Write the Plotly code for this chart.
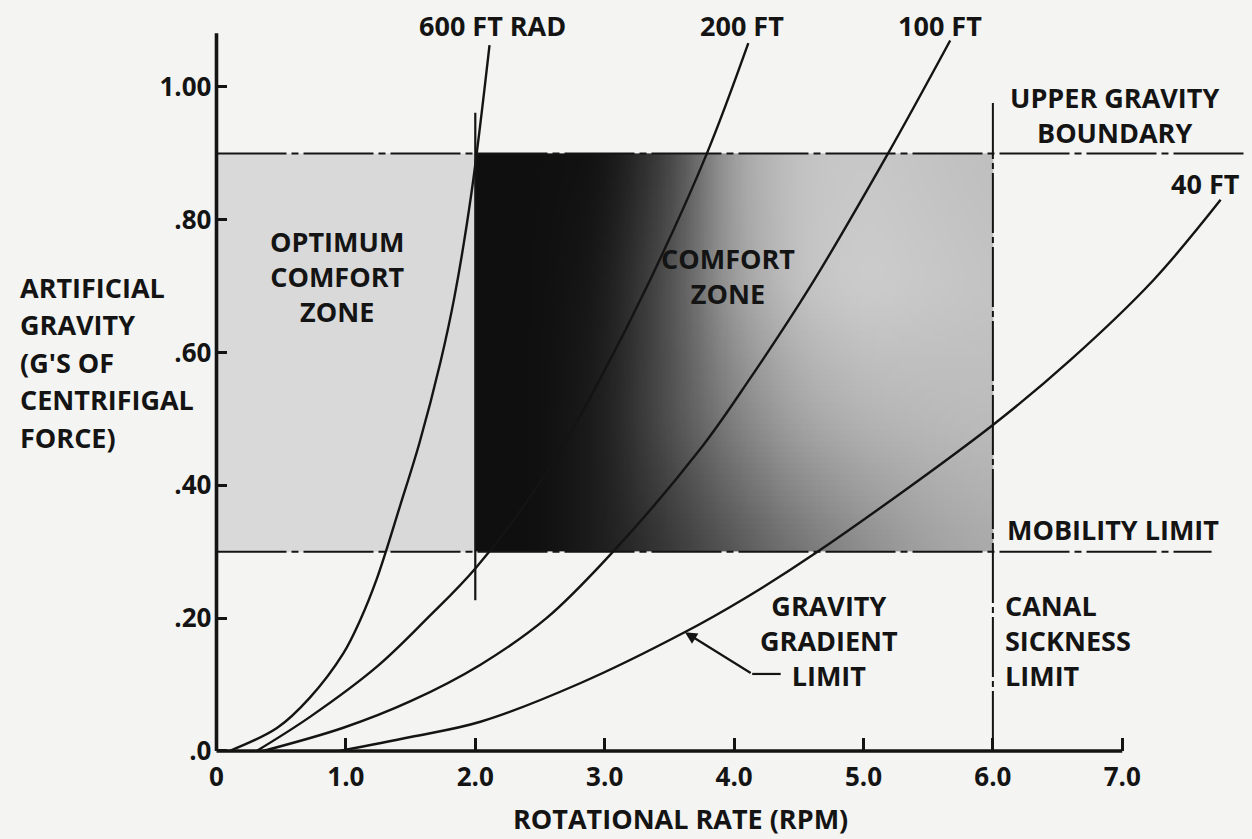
import numpy as np
import plotly.graph_objects as go

# ---------------- data ----------------
# curves of constant radius: rotational rate (RPM) vs artificial gravity (g)
rpm_600 = [0.10, 0.47, 0.72, 0.98, 1.11, 1.24, 1.42, 1.57, 1.73, 1.84, 1.97, 2.11]
g_600 = [0.0, 0.035, 0.08, 0.147, 0.197, 0.26, 0.37, 0.465, 0.585, 0.685, 0.84, 1.063]

rpm_200 = [0.31, 0.72, 1.24, 1.63, 2.01, 2.58, 2.96, 3.35, 3.79, 4.11]
g_200 = [0.0, 0.051, 0.127, 0.200, 0.277, 0.428, 0.559, 0.709, 0.90, 1.066]

rpm_100 = [0.36, 0.98, 1.50, 2.04, 2.55, 3.04, 3.74, 4.12, 4.59, 5.19, 5.67]
g_100 = [0.0, 0.035, 0.075, 0.13, 0.20, 0.295, 0.455, 0.56, 0.70, 0.90, 1.07]

rpm_40 = [0.95, 1.50, 2.04, 2.81, 3.61, 4.10, 4.63, 6.00, 6.60, 7.24, 7.76]
g_40 = [0.0, 0.021, 0.044, 0.102, 0.178, 0.232, 0.298, 0.491, 0.589, 0.709, 0.83]

# limits
UPPER_G = 0.90          # upper gravity boundary
MOBILITY_G = 0.30       # mobility limit
CANAL_RPM = 6.0         # canal sickness limit
OPT_RPM = 2.0           # optimum comfort zone edge

# axis ticks
x_ticks = [0, 1, 2, 3, 4, 5, 6, 7]
x_ticktext = ["0", "1.0", "2.0", "3.0", "4.0", "5.0", "6.0", "7.0"]
y_ticks = [0, 0.2, 0.4, 0.6, 0.8, 1.0]
y_ticktext = [".0", ".20", ".40", ".60", ".80", "1.00"]

# gray level of the comfort-zone shading
shade_rpm = [2.0, 2.5, 3.0, 3.5, 4.0, 4.5, 5.0, 5.5, 6.0]
shade_g = [0.3, 0.5, 0.7, 0.9]
shade_gray = [
    [15, 15, 30, 55, 85, 115, 140, 160, 170],
    [15, 15, 30, 80, 130, 165, 180, 185, 188],
    [15, 15, 25, 80, 160, 195, 205, 200, 195],
    [15, 15, 18, 65, 165, 195, 200, 195, 190],
]

# ---------------- layout geometry ----------------
W, H = 1252, 839
ML, MR, MT, MB = 200, 0, 15, 75
X_MIN, X_MAX = -0.1275, 8.0025
Y_MIN, Y_MAX = -0.0196, 1.1084
PLOT_W = W - ML - MR
PLOT_H = H - MT - MB

FONT = "Open Sans"
INK = "#141414"
BG = "#f4f4f2"
LABEL_SIZE = 27
TICK_SIZE = 26

fig = go.Figure()

# optimum comfort zone (light gray)
fig.add_shape(type="rect", x0=0, x1=OPT_RPM, y0=MOBILITY_G, y1=UPPER_G,
              fillcolor="#d9d9d9", line=dict(width=0), layer="below")

# comfort zone shading (gray levels interpolated, then softened)
xe = np.linspace(OPT_RPM, CANAL_RPM, 241)
ye = np.linspace(MOBILITY_G, UPPER_G, 73)
xc = (xe[:-1] + xe[1:]) / 2
yc = (ye[:-1] + ye[1:]) / 2
rows = np.array([np.interp(xc, shade_rpm, r) for r in shade_gray])
z = np.array([np.interp(yc, shade_g, rows[:, j]) for j in range(len(xc))]).T


def soften(a, k, axis):
    pad = [(0, 0), (0, 0)]
    pad[axis] = (k, k)
    p = np.pad(a, pad, mode="edge")
    ker = np.ones(2 * k + 1) / (2 * k + 1)
    return np.apply_along_axis(lambda v: np.convolve(v, ker, mode="valid"), axis, p)


z = soften(soften(z, 12, 1), 4, 0)
fig.add_trace(go.Heatmap(x=xe, y=ye, z=z, zmin=0, zmax=255,
                         colorscale=[[0, "#000000"], [1, "#ffffff"]],
                         showscale=False, hoverinfo="skip"))

DASH = "70px,5px,7px,5px"


def line(x, y, width=2.2, dash="solid", shape="linear"):
    fig.add_trace(go.Scatter(x=x, y=y, mode="lines", hoverinfo="skip",
                             line=dict(color=INK, width=width, dash=dash, shape=shape,
                                       smoothing=1.0),
                             showlegend=False))


# limit lines
line([0, 7.96], [UPPER_G, UPPER_G], 2.0, DASH)
line([0, 7.69], [MOBILITY_G, MOBILITY_G], 2.0, DASH)
line([CANAL_RPM, CANAL_RPM], [0, 0.976], 2.0, "60px,4px,6px,4px")
line([OPT_RPM, OPT_RPM], [0.227, 0.961], 2.2)

# radius curves
for xs, ys in [(rpm_600, g_600), (rpm_200, g_200), (rpm_100, g_100), (rpm_40, g_40)]:
    line(xs, ys, 2.4, shape="spline")

# axes lines
line([0, 7.0], [0, 0], 3.6)
line([0, 0], [0, 1.081], 3.6)

# gravity gradient pointer
line([4.36, 4.14], [0.116, 0.116], 2.2)
fig.add_annotation(x=3.62, y=0.179, ax=4.14, ay=0.116, xref="x", yref="y",
                   axref="x", ayref="y", text="", showarrow=True,
                   arrowhead=2, arrowsize=1.1, arrowwidth=2.2, arrowcolor=INK)


def label(text, x, y, xanchor="center", align="center", paper=False):
    ref = dict(xref="paper", yref="paper") if paper else dict(xref="x", yref="y")
    fig.add_annotation(x=x, y=y, text=text, showarrow=False, xanchor=xanchor,
                       yanchor="middle", align=align, **ref,
                       font=dict(family=FONT, size=LABEL_SIZE, color=INK, weight="bold"))


label("600 FT RAD", 2.13, 1.093)
label("200 FT", 4.06, 1.093)
label("100 FT", 5.59, 1.093)
label("UPPER GRAVITY<br>BOUNDARY", 6.943, 0.958)
label("40 FT", 7.64, 0.855)
label("OPTIMUM<br>COMFORT<br>ZONE", 0.931, 0.715)
label("COMFORT<br>ZONE", 3.953, 0.715)
label("MOBILITY LIMIT", 6.928, 0.333)
label("GRAVITY<br>GRADIENT<br>LIMIT", 4.733, 0.166)
label("CANAL<br>SICKNESS<br>LIMIT", 6.078, 0.166, xanchor="left", align="left")

# y-axis title: one line per annotation for the wider line spacing of the original
y_title_lines = ["ARTIFICIAL", "GRAVITY", "(G'S OF", "CENTRIFIGAL", "FORCE)"]
for i, t in enumerate(y_title_lines):
    label(t, (18 - ML) / PLOT_W, (H - MB - (287 + 37.5 * i)) / PLOT_H,
          xanchor="left", align="left", paper=True)
label("ROTATIONAL RATE (RPM)", (680 - ML) / PLOT_W, (H - MB - 818) / PLOT_H,
      paper=True)

xpos = (0 - Y_MIN) / (Y_MAX - Y_MIN)
ypos = (0 - X_MIN) / (X_MAX - X_MIN)

fig.update_layout(
    width=W, height=H,
    margin=dict(l=ML, r=MR, t=MT, b=MB, pad=0),
    paper_bgcolor=BG, plot_bgcolor=BG,
    showlegend=False,
    xaxis=dict(range=[X_MIN, X_MAX], tickvals=x_ticks, ticktext=x_ticktext,
               ticks="inside", ticklen=13, tickwidth=2.6, tickcolor=INK,
               showgrid=False, zeroline=False, showline=False,
               anchor="free", position=xpos, ticklabelstandoff=8,
               tickfont=dict(family=FONT, size=TICK_SIZE, color=INK, weight="bold")),
    yaxis=dict(range=[Y_MIN, Y_MAX], tickvals=y_ticks, ticktext=y_ticktext,
               ticks="inside", ticklen=10, tickwidth=3, tickcolor=INK,
               showgrid=False, zeroline=False, showline=False,
               anchor="free", position=ypos, ticklabelstandoff=5,
               tickfont=dict(family=FONT, size=TICK_SIZE, color=INK, weight="bold")),
)

fig.write_html("out.html", config={"displayModeBar": False},
               post_script="document.body.style.margin='0';")
